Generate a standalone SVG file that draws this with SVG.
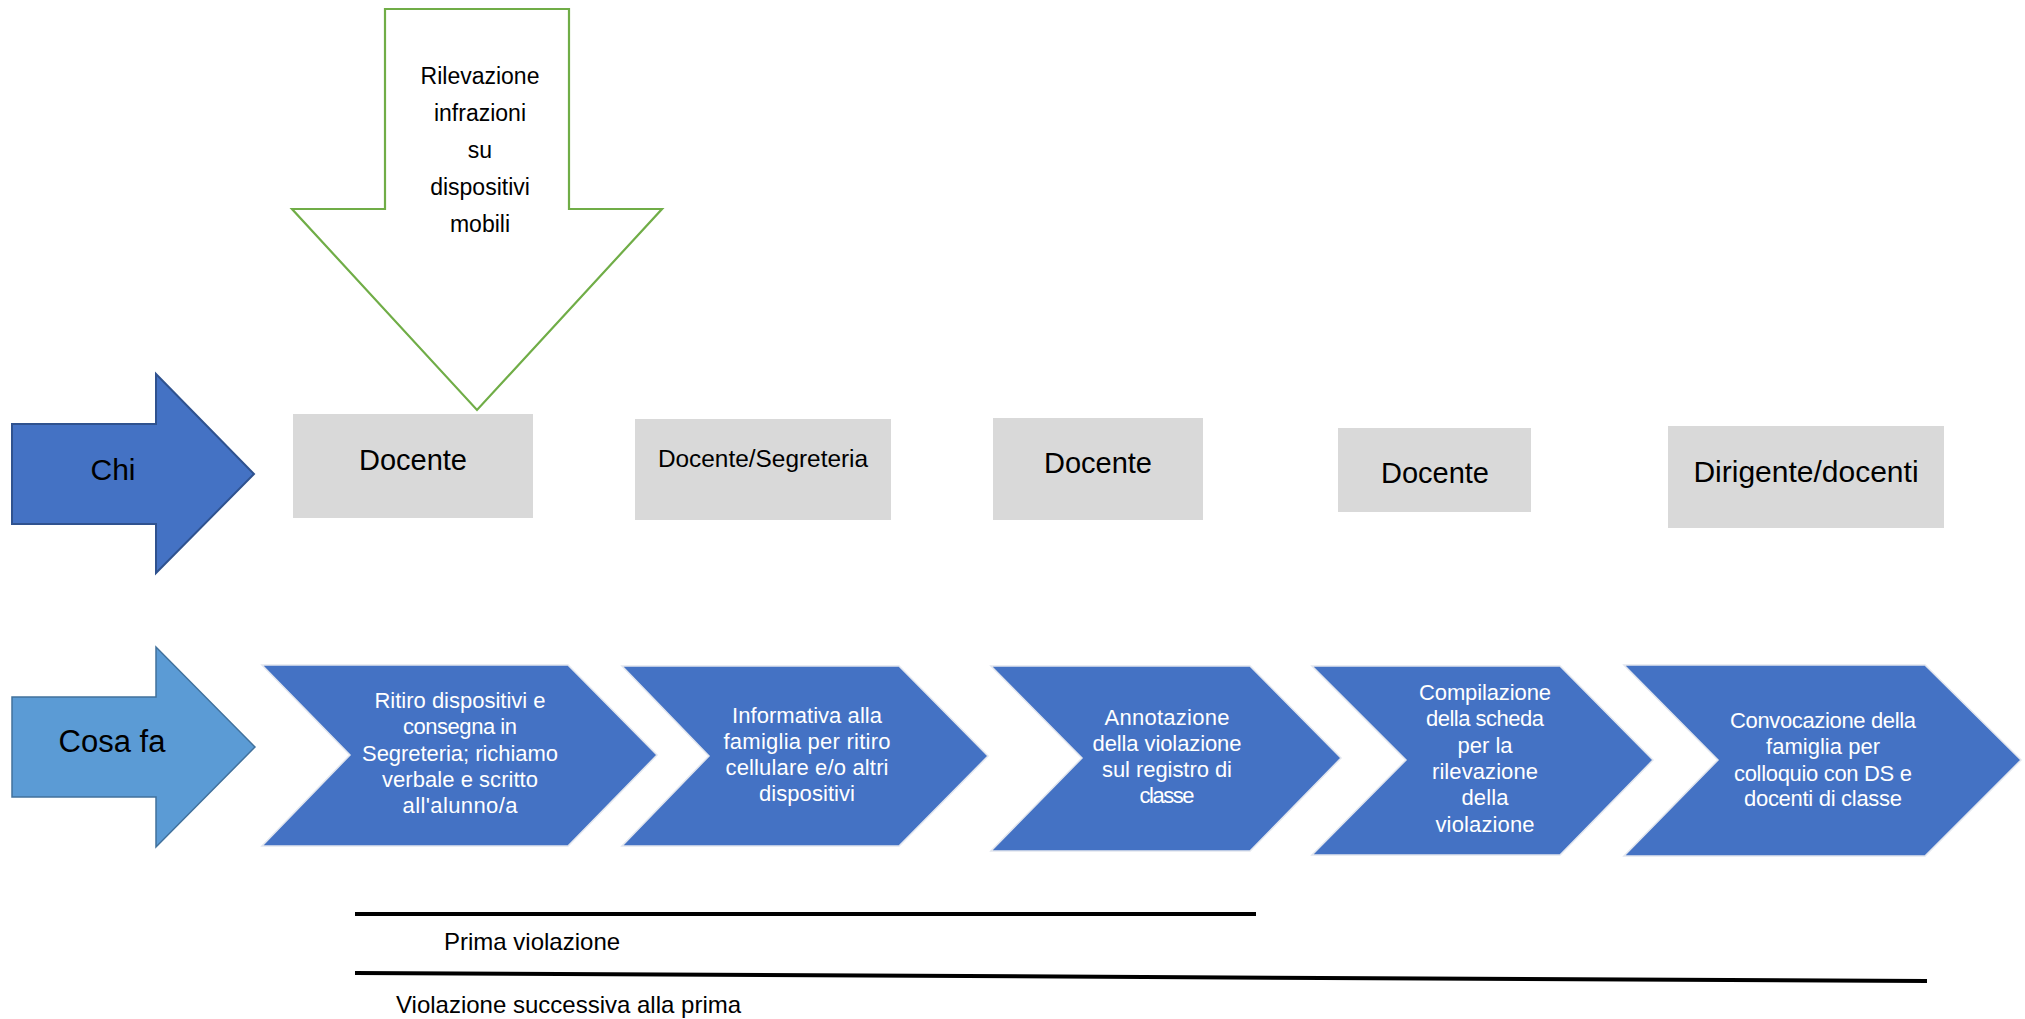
<svg xmlns="http://www.w3.org/2000/svg" width="2025" height="1019" viewBox="0 0 2025 1019">
<style>
text{font-family:"Liberation Sans",Arial,sans-serif;}
.lbl{fill:#000000;text-anchor:middle;}
.who{fill:#D9D9D9;}
.chev{fill:#4472C4;stroke:#E2E6EE;stroke-width:1.5;stroke-linejoin:miter;}
.ct{fill:#FFFFFF;font-size:22px;text-anchor:middle;}
.line{stroke:#000000;stroke-width:4;fill:none;}
</style>
<rect x="0" y="0" width="2025" height="1019" fill="#FFFFFF"/>

<g id="rilevazione">
<polygon points="385,9 569,9 569,209 662,209 477,410 292,209 385,209" fill="#FFFFFF" stroke="#70AD47" stroke-width="2.2"/>
<text class="lbl" font-size="23" x="480" y="84">Rilevazione</text>
<text class="lbl" font-size="23" x="480" y="121">infrazioni</text>
<text class="lbl" font-size="23" x="480" y="158">su</text>
<text class="lbl" font-size="23" x="480" y="195">dispositivi</text>
<text class="lbl" font-size="23" x="480" y="232">mobili</text>
</g>

<g id="chi">
<polygon points="12,424 156,424 156,374 254,474 156,573 156,524 12,524" fill="#4472C4" stroke="#2F528F" stroke-width="2"/>
<text class="lbl" font-size="30" x="113" y="480">Chi</text>
</g>

<g id="cosafa">
<polygon points="12,697 156,697 156,647 255,747 156,847 156,797 12,797" fill="#5B9BD5" stroke="#41719C" stroke-width="1.5"/>
<text class="lbl" font-size="31" x="112" y="752">Cosa fa</text>
</g>

<g id="who1">
<rect class="who" x="293" y="414" width="240" height="104"/>
<text class="lbl" font-size="29" x="413" y="470">Docente</text>
</g>
<g id="who2">
<rect class="who" x="635" y="419" width="256" height="101"/>
<text class="lbl" font-size="24.4" x="763" y="467">Docente/Segreteria</text>
</g>
<g id="who3">
<rect class="who" x="993" y="418" width="210" height="102"/>
<text class="lbl" font-size="29" x="1098" y="473">Docente</text>
</g>
<g id="who4">
<rect class="who" x="1338" y="428" width="193" height="84"/>
<text class="lbl" font-size="29" x="1435" y="483">Docente</text>
</g>
<g id="who5">
<rect class="who" x="1668" y="426" width="276" height="102"/>
<text class="lbl" font-size="30" x="1806" y="482">Dirigente/docenti</text>
</g>

<g id="step1">
<polygon class="chev" points="262,665 568,665 657,755 568,846 262,846 350,755"/>
<text class="ct" x="460" y="708" textLength="171">Ritiro dispositivi e</text>
<text class="ct" x="460" y="734" textLength="114">consegna in</text>
<text class="ct" x="460" y="761" textLength="196">Segreteria; richiamo</text>
<text class="ct" x="460" y="787" textLength="156">verbale e scritto</text>
<text class="ct" x="460" y="813" textLength="115">all'alunno/a</text>
</g>
<g id="step2">
<polygon class="chev" points="622,666 899,666 988,756 899,846 622,846 709,756"/>
<text class="ct" x="807" y="723" textLength="150">Informativa alla</text>
<text class="ct" x="807" y="749" textLength="167">famiglia per ritiro</text>
<text class="ct" x="807" y="775" textLength="163">cellulare e/o altri</text>
<text class="ct" x="807" y="801" textLength="96">dispositivi</text>
</g>
<g id="step3">
<polygon class="chev" points="991,666 1250,666 1341,758 1250,851 991,851 1082,758"/>
<text class="ct" x="1167" y="725" textLength="125">Annotazione</text>
<text class="ct" x="1167" y="751" textLength="149">della violazione</text>
<text class="ct" x="1167" y="777" textLength="130">sul registro di</text>
<text class="ct" x="1167" y="803" textLength="55">classe</text>
</g>
<g id="step4">
<polygon class="chev" points="1312,666 1560,666 1653,760 1560,855 1312,855 1406,760"/>
<text class="ct" x="1485" y="700" textLength="132">Compilazione</text>
<text class="ct" x="1485" y="726" textLength="118">della scheda</text>
<text class="ct" x="1485" y="753" textLength="55">per la</text>
<text class="ct" x="1485" y="779" textLength="106">rilevazione</text>
<text class="ct" x="1485" y="805" textLength="47">della</text>
<text class="ct" x="1485" y="832" textLength="99">violazione</text>
</g>
<g id="step5">
<polygon class="chev" points="1624,665 1925,665 2021,760 1925,856 1624,856 1718,760"/>
<text class="ct" x="1823" y="728" textLength="186">Convocazione della</text>
<text class="ct" x="1823" y="754" textLength="114">famiglia per</text>
<text class="ct" x="1823" y="781" textLength="178">colloquio con DS e</text>
<text class="ct" x="1823" y="806" textLength="158">docenti di classe</text>
</g>

<g id="connectors">
<line class="line" x1="355" y1="914" x2="1256" y2="914"/>
<line class="line" x1="355" y1="973" x2="1927" y2="981"/>
</g>

<g id="legend">
<text font-size="24" x="444" y="950" fill="#000000">Prima violazione</text>
<text font-size="24" x="396" y="1013" fill="#000000">Violazione successiva alla prima</text>
</g>
</svg>
